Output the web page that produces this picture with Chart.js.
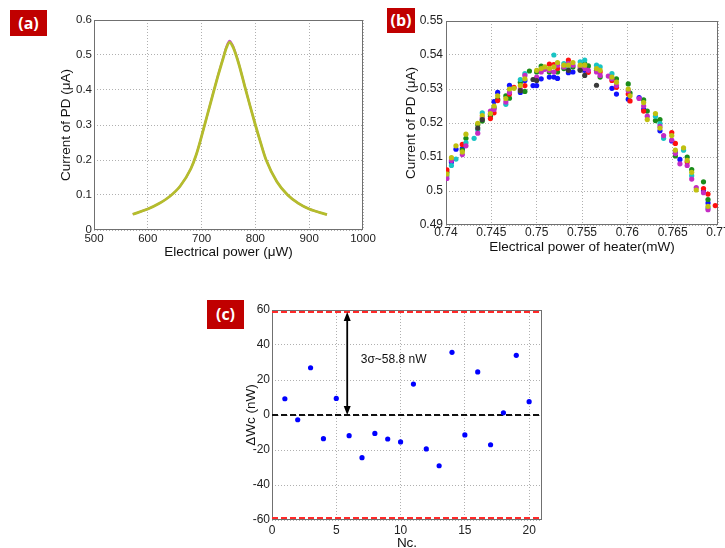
<!DOCTYPE html>
<html>
<head>
<meta charset="utf-8">
<script src="https://cdn.jsdelivr.net/npm/chart.js@4/dist/chart.umd.min.js"></script>
<style>
  html, body { margin: 0; padding: 0; background: #fff; overflow: hidden; }
  body { width: 725px; height: 548px; position: relative; }
  canvas { position: absolute; }
  .tag {
    position: absolute; background: #c00000; color: #fff; text-align: center;
    font: bold 16px "Open Sans", "Liberation Sans", sans-serif;
  }
</style>
</head>
<body>
<canvas id="chart-a" width="380" height="262" style="left:0;top:0"></canvas>
<canvas id="chart-b" width="355" height="262" style="left:370px;top:0"></canvas>
<canvas id="chart-c" width="380" height="262" style="left:200px;top:290px"></canvas>
<div class="tag" style="left:10px;top:10px;width:37px;height:26px;line-height:26px">(a)</div>
<div class="tag" style="left:387px;top:8px;width:28px;height:25px;line-height:25px">(b)</div>
<div class="tag" style="left:207px;top:300px;width:37px;height:29px;line-height:29px">(c)</div>

<script>
// ---------- (a) PD current vs electrical power ----------
const powerA = [572, 600, 620, 640, 660, 680, 690, 700, 710, 720, 730, 740, 746, 752,
                758, 764, 770, 780, 790, 800, 810, 820, 840, 860, 880, 900, 933];
const currentA = [0.045, 0.060, 0.075, 0.095, 0.125, 0.175, 0.215, 0.268, 0.325, 0.382, 0.438, 0.490, 0.520, 0.536,
                  0.524, 0.500, 0.470, 0.412, 0.355, 0.300, 0.248, 0.200, 0.138, 0.100, 0.076, 0.060, 0.044];
const currentAMagenta = [0.045, 0.060, 0.075, 0.095, 0.125, 0.175, 0.215, 0.268, 0.325, 0.383, 0.439, 0.492, 0.524, 0.541,
                         0.528, 0.502, 0.471, 0.412, 0.355, 0.300, 0.248, 0.200, 0.138, 0.100, 0.076, 0.060, 0.044];
const xTicksA = [500, 600, 700, 800, 900, 1000];
const yTicksA = [0, 0.1, 0.2, 0.3, 0.4, 0.5, 0.6];

// ---------- (b) zoom on the peak, one array per colour ----------
const heaterCols = [0.7401, 0.7406, 0.7411, 0.7418, 0.7422, 0.7431, 0.7435, 0.744, 0.7449, 0.7453,
                    0.7457, 0.7466, 0.747, 0.7475, 0.7482, 0.7487, 0.7492, 0.7496, 0.75, 0.7505,
                    0.7509, 0.7514, 0.7519, 0.7523, 0.753, 0.7535, 0.754, 0.7548, 0.7553, 0.7557,
                    0.7566, 0.757, 0.7579, 0.7583, 0.7588, 0.7601, 0.7603, 0.7613, 0.7618, 0.7622,
                    0.7631, 0.7636, 0.764, 0.7649, 0.7653, 0.7658, 0.7662, 0.7666, 0.7671, 0.7676,
                    0.7684, 0.7689, 0.7697];
const blueB = [null, .5085, .5123, .5125, null, null, null, null, .5225, .5263,
               .529, null, .5311, null, .529, .5325, null, .531, .531, .533,
               null, .5335, .5335, .5331, null, .5348, .535, null, .5355, null,
               null, null, null, .5302, .5285, .527, null, .5275, .524, null,
               null, .5177, null, .5147, .5115, .5093, null, null, null, null,
               .500, .4965, null];
const greenB = [.5055, null, null, .512, .5155, null, .5195, .5206, .522, .5245,
                .527, .528, .5273, null, .532, .5293, .5353, null, .535, .5367,
                null, .535, null, .535, .536, null, .5365, .5358, .5375, .5368,
                .5355, .5335, null, null, .533, .5315, .5288, null, .5268, .5235,
                .5207, .521, null, null, .5103, null, null, .510, .5063, null,
                .5027, .4975, null];
const redB = [.5062, null, null, .5137, null, null, null, null, .5213, .523,
              .5266, null, .5285, .5305, null, .531, null, null, null, null,
              null, .5373, .5372, .536, null, .5385, null, null, null, .5349,
              null, .535, null, .5325, .5305, .5285, .5265, null, .5235, null,
              null, null, null, .5172, .514, null, null, .5085, null, null,
              .5007, .4991, .4957];
const cyanB = [.5045, .5075, .5094, null, .5142, .5155, .518, .523, null, null,
               null, .5255, null, null, .5328, .5345, null, null, null, .5355,
               null, null, .540, null, .5375, .536, null, .538, .5385, null,
               .537, .5365, null, .5345, null, null, null, null, null, null,
               .522, .5198, .5155, null, null, null, .512, null, .5045, null,
               null, .495, null];
const magentaB = [.5037, .509, null, .5107, .5133, null, .517, .5215, .5235, .524,
                  null, .5262, .529, null, .530, .534, null, null, .5335, .535,
                  .5358, .5355, .535, .537, .5365, .5375, .537, .5365, .536, .5355,
                  .535, .534, .5338, .533, .531, .5295, null, .5272, .525, .522,
                  null, .519, .5163, .515, .511, .508, null, .5075, .5035, .501,
                  .4995, .4945, null];
const yellowB = [.505, .5098, .5133, .5115, .5167, null, .5199, .5222, .5228, .525,
                 .528, .5272, .530, .5302, .531, .533, null, null, .5355, .536,
                 .5365, .536, .5365, .5378, .537, .537, .5378, .537, .537, null,
                 .536, .5355, null, .5335, .532, .530, .528, null, .526, .521,
                 .5228, .5185, null, .5163, .512, null, .5127, .509, .5055, .5003,
                 null, .4955, null];
const blackB = [null, null, null, null, null, null, .5185, .521, null, null,
                null, null, null, null, .5295, null, null, .5328, .5325, null,
                null, null, null, null, null, .5355, null, .5355, .534, null,
                .5311, null, null, null, null, null, null, null, null, null,
                null, null, null, null, null, null, null, null, null, null,
                null, null, null];
const xTicksB = [0.74, 0.745, 0.75, 0.755, 0.76, 0.765, 0.77];
const yTicksB = [0.49, 0.5, 0.51, 0.52, 0.53, 0.54, 0.55];

// ---------- (c) deviation of each run ----------
const runNo = [1, 2, 3, 4, 5, 6, 7, 8, 9, 10, 11, 12, 13, 14, 15, 16, 17, 18, 19, 20];
const deltaWc = [9.3, -2.7, 27, -13.5, 9.5, -11.8, -24.4, -10.5, -13.7, -15.4,
                 17.7, -19.4, -29, 35.8, -11.4, 24.6, -17, 1.3, 34.1, 7.6];
const xTicksC = [0, 5, 10, 15, 20];
const yTicksC = [-60, -40, -20, 0, 20, 40, 60];
const SIGMA3 = 58.8;
const SIGMA_LABEL = '3σ~58.8 nW';

const FONT = '"Liberation Sans", Arial, sans-serif';
Chart.defaults.font.family = FONT;
Chart.defaults.animation = false;

// draws the box round the plot area
const framePlugin = {
    id: 'frame',
    beforeDatasetsDraw(chart) {
        const a = chart.chartArea;
        const ctx = chart.ctx;
        ctx.save();
        ctx.strokeStyle = '#707070';
        ctx.lineWidth = 1;
        ctx.strokeRect(Math.round(a.left) + 0.5, Math.round(a.top) + 0.5,
                       Math.round(a.width) - 1, Math.round(a.height) - 1);
        ctx.restore();
    }
};

function makeScales(canvas, area, opt) {
    return {
        x: {
            type: 'linear', min: opt.xTicks[0], max: opt.xMax,
            afterFit: (s) => { s.height = canvas.height - area.bottom; s.paddingLeft = 0; s.paddingRight = 0; },
            afterBuildTicks: (s) => { s.ticks = opt.xTicks.map((v) => ({value: v})); },
            ticks: {font: {size: opt.tickSize}, color: '#222', padding: opt.xPad,
                    maxRotation: 0, autoSkip: false, callback: (v) => String(v)},
            grid: {color: '#b0b0b0', lineWidth: 1, drawTicks: false, borderDash: [1, 2]},
            border: {display: false, dash: [1, 2]},
            title: {display: true, text: opt.xTitle, color: '#111',
                    font: {size: 13.5, lineHeight: 1}, padding: {top: 0, bottom: opt.xTitlePad}}
        },
        y: {
            type: 'linear', min: opt.yTicks[0], max: opt.yTicks[opt.yTicks.length - 1],
            afterFit: (s) => { s.width = area.left; s.paddingTop = 0; s.paddingBottom = 0; },
            afterBuildTicks: (s) => { s.ticks = opt.yTicks.map((v) => ({value: v})); },
            ticks: {font: {size: opt.tickSize}, color: '#222', padding: opt.yPad,
                    autoSkip: false, callback: (v) => String(v)},
            grid: {color: '#b0b0b0', lineWidth: 1, drawTicks: false, borderDash: [1, 2]},
            border: {display: false, dash: [1, 2]},
            title: {display: true, text: opt.yTitle, color: '#111',
                    font: {size: 13.5, lineHeight: 1}, padding: {top: opt.yTitlePad, bottom: 0}}
        }
    };
}

function baseOptions(canvas, area, opt) {
    return {
        responsive: false,
        devicePixelRatio: 1,
        layout: {padding: {left: 0, top: area.top, right: canvas.width - area.right, bottom: 0}},
        plugins: {legend: {display: false}, tooltip: {enabled: false}},
        scales: makeScales(canvas, area, opt)
    };
}

function zip(xs, ys) {
    return xs.map((x, i) => ({x: x, y: ys[i]})).filter((p) => p.y !== null);
}

/******************* (a) *******************/
// Chart.js paints dataset 0 last, so the yellow trace goes first
const canvasA = document.getElementById('chart-a');
const areaA = {left: 94, top: 20, right: 363, bottom: 230};
new Chart(canvasA, {
    type: 'line',
    data: {
        datasets: [
            {data: zip(powerA, currentA), borderColor: '#b4bd2c', borderWidth: 2.8,
             pointRadius: 0, cubicInterpolationMode: 'monotone'},
            {data: zip(powerA, currentAMagenta), borderColor: '#c84cc8', borderWidth: 2,
             pointRadius: 0, cubicInterpolationMode: 'monotone'}
        ]
    },
    options: baseOptions(canvasA, areaA, {
        xTicks: xTicksA, xMax: 1000, yTicks: yTicksA, tickSize: 11.5,
        xPad: 2, yPad: 2, xTitle: 'Electrical power (μW)', xTitlePad: 3,
        yTitle: 'Current of PD (μA)', yTitlePad: 60
    }),
    plugins: [framePlugin]
});

/******************* (b) *******************/
const canvasB = document.getElementById('chart-b');
const areaB = {left: 76, top: 21, right: 348, bottom: 225};
const seriesB = [
    ['#3a3a3a', blackB], ['#c0c010', yellowB], ['#c42cc4', magentaB], ['#18c4c4', cyanB],
    ['#ff1010', redB], ['#1a8c1a', greenB], ['#1010ff', blueB]
];
new Chart(canvasB, {
    type: 'scatter',
    data: {
        datasets: seriesB.map(([color, ys]) => ({
            data: zip(heaterCols, ys), backgroundColor: color, borderWidth: 0,
            pointRadius: 2.6
        }))
    },
    options: baseOptions(canvasB, areaB, {
        xTicks: xTicksB, xMax: 0.77, yTicks: yTicksB, tickSize: 12,
        xPad: 0, yPad: 3, xTitle: 'Electrical power of heater(mW)', xTitlePad: 8,
        yTitle: 'Current of PD (μA)', yTitlePad: 35
    }),
    plugins: [framePlugin]
});

/******************* (c) *******************/
const canvasC = document.getElementById('chart-c');
const areaC = {left: 72, top: 20, right: 342, bottom: 230};

const sigmaPlugin = {
    id: 'sigma',
    afterDatasetsDraw(chart) {
        const ctx = chart.ctx;
        const x = chart.scales.x, y = chart.scales.y;
        const px = x.getPixelForValue(5.85);
        const y0 = y.getPixelForValue(0), y1 = y.getPixelForValue(SIGMA3);
        ctx.save();
        ctx.strokeStyle = '#000';
        ctx.fillStyle = '#000';
        ctx.lineWidth = 1.8;
        ctx.beginPath();
        ctx.moveTo(px, y0 - 6);
        ctx.lineTo(px, y1 + 6);
        ctx.stroke();
        // arrow heads
        ctx.beginPath();
        ctx.moveTo(px, y1); ctx.lineTo(px - 3.5, y1 + 9); ctx.lineTo(px + 3.5, y1 + 9); ctx.closePath();
        ctx.moveTo(px, y0); ctx.lineTo(px - 3.5, y0 - 9); ctx.lineTo(px + 3.5, y0 - 9); ctx.closePath();
        ctx.fill();
        ctx.font = '12px ' + FONT;
        ctx.textBaseline = 'middle';
        ctx.fillStyle = '#111';
        ctx.fillText(SIGMA_LABEL, x.getPixelForValue(6.9), y.getPixelForValue(31.8));
        ctx.restore();
    }
};

const hLine = (v, color) => ({
    type: 'line', data: [{x: 0, y: v}, {x: 21, y: v}], borderColor: color,
    borderWidth: 2, borderDash: [6, 3], pointRadius: 0
});

new Chart(canvasC, {
    type: 'scatter',
    data: {
        datasets: [
            {data: zip(runNo, deltaWc), backgroundColor: '#0000ff', borderWidth: 0, pointRadius: 2.6},
            hLine(0, '#111'),
            hLine(SIGMA3, '#ff2a2a'),
            hLine(-SIGMA3, '#ff2a2a')
        ]
    },
    options: baseOptions(canvasC, areaC, {
        xTicks: xTicksC, xMax: 21, yTicks: yTicksC, tickSize: 12,
        xPad: 3, yPad: 2, xTitle: 'Nc.', xTitlePad: 2,
        yTitle: 'ΔWc (nW)', yTitlePad: 45
    }),
    plugins: [framePlugin, sigmaPlugin]
});
</script>
</body>
</html>
